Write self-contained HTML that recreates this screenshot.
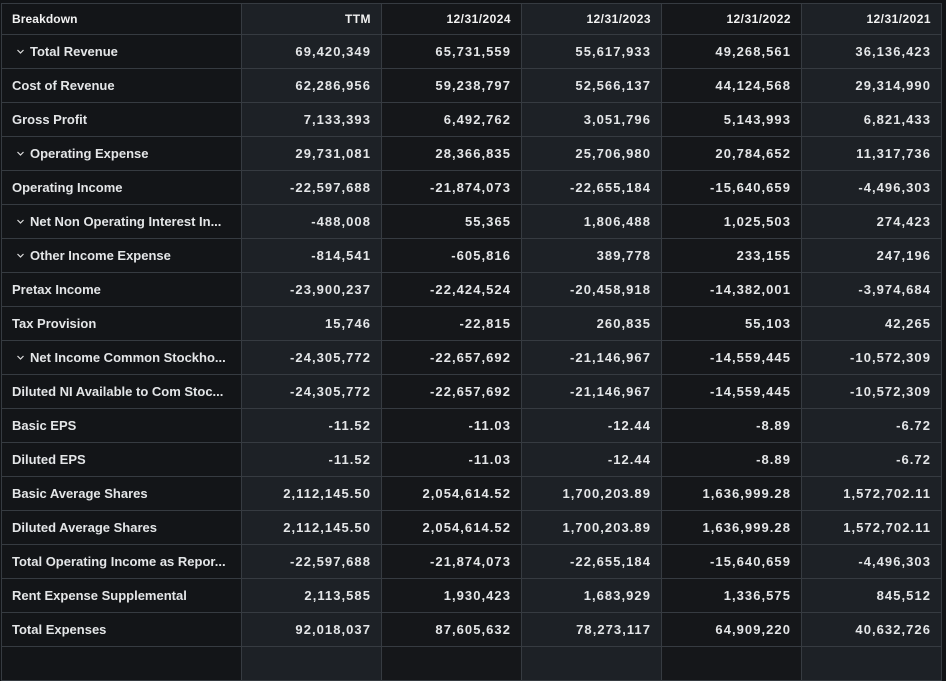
<!DOCTYPE html>
<html><head><meta charset="utf-8"><style>
html,body{margin:0;padding:0;background:#111316;width:946px;height:652px;overflow:hidden}
table{position:absolute;left:1px;top:3px;border-collapse:collapse;table-layout:fixed;font-family:"Liberation Sans",sans-serif;color:#e4e6e8}
td,th{border:1px solid #363b41;padding:0 10px 0 10px;white-space:nowrap;overflow:hidden}
th{height:30px;font-size:12px;font-weight:bold;color:#f2f2f2;text-align:right;letter-spacing:0.45px}
th:first-child{text-align:left;letter-spacing:0.1px}
td{height:33px;font-size:13px;font-weight:bold;text-align:right;letter-spacing:1.05px}
td:first-child{text-align:left;letter-spacing:0}
tr>*:nth-child(1){background:#131518}
tr>*:nth-child(2),tr>*:nth-child(4),tr>*:nth-child(6){background:#1d2126}
tr>*:nth-child(3),tr>*:nth-child(5){background:#15171a}
.c{display:inline-block;width:7px;height:7px;margin:0 6px 0 5px;position:relative;top:-1px}
</style></head><body>
<table>
<colgroup><col style="width:240px"><col style="width:140px"><col style="width:140px"><col style="width:140px"><col style="width:140px"><col style="width:140px"></colgroup>
<tr><th>Breakdown</th><th>TTM</th><th>12/31/2024</th><th>12/31/2023</th><th>12/31/2022</th><th>12/31/2021</th></tr>
<tr><td><svg class="c" viewBox="0 0 7 7"><path d="M0.5 2 L3.5 5 L6.5 2" stroke="#ddd" stroke-width="1.2" fill="none"/></svg>Total Revenue</td><td>69,420,349</td><td>65,731,559</td><td>55,617,933</td><td>49,268,561</td><td>36,136,423</td></tr>
<tr><td>Cost of Revenue</td><td>62,286,956</td><td>59,238,797</td><td>52,566,137</td><td>44,124,568</td><td>29,314,990</td></tr>
<tr><td>Gross Profit</td><td>7,133,393</td><td>6,492,762</td><td>3,051,796</td><td>5,143,993</td><td>6,821,433</td></tr>
<tr><td><svg class="c" viewBox="0 0 7 7"><path d="M0.5 2 L3.5 5 L6.5 2" stroke="#ddd" stroke-width="1.2" fill="none"/></svg>Operating Expense</td><td>29,731,081</td><td>28,366,835</td><td>25,706,980</td><td>20,784,652</td><td>11,317,736</td></tr>
<tr><td>Operating Income</td><td>-22,597,688</td><td>-21,874,073</td><td>-22,655,184</td><td>-15,640,659</td><td>-4,496,303</td></tr>
<tr><td><svg class="c" viewBox="0 0 7 7"><path d="M0.5 2 L3.5 5 L6.5 2" stroke="#ddd" stroke-width="1.2" fill="none"/></svg>Net Non Operating Interest In...</td><td>-488,008</td><td>55,365</td><td>1,806,488</td><td>1,025,503</td><td>274,423</td></tr>
<tr><td><svg class="c" viewBox="0 0 7 7"><path d="M0.5 2 L3.5 5 L6.5 2" stroke="#ddd" stroke-width="1.2" fill="none"/></svg>Other Income Expense</td><td>-814,541</td><td>-605,816</td><td>389,778</td><td>233,155</td><td>247,196</td></tr>
<tr><td>Pretax Income</td><td>-23,900,237</td><td>-22,424,524</td><td>-20,458,918</td><td>-14,382,001</td><td>-3,974,684</td></tr>
<tr><td>Tax Provision</td><td>15,746</td><td>-22,815</td><td>260,835</td><td>55,103</td><td>42,265</td></tr>
<tr><td><svg class="c" viewBox="0 0 7 7"><path d="M0.5 2 L3.5 5 L6.5 2" stroke="#ddd" stroke-width="1.2" fill="none"/></svg>Net Income Common Stockho...</td><td>-24,305,772</td><td>-22,657,692</td><td>-21,146,967</td><td>-14,559,445</td><td>-10,572,309</td></tr>
<tr><td>Diluted NI Available to Com Stoc...</td><td>-24,305,772</td><td>-22,657,692</td><td>-21,146,967</td><td>-14,559,445</td><td>-10,572,309</td></tr>
<tr><td>Basic EPS</td><td>-11.52</td><td>-11.03</td><td>-12.44</td><td>-8.89</td><td>-6.72</td></tr>
<tr><td>Diluted EPS</td><td>-11.52</td><td>-11.03</td><td>-12.44</td><td>-8.89</td><td>-6.72</td></tr>
<tr><td>Basic Average Shares</td><td>2,112,145.50</td><td>2,054,614.52</td><td>1,700,203.89</td><td>1,636,999.28</td><td>1,572,702.11</td></tr>
<tr><td>Diluted Average Shares</td><td>2,112,145.50</td><td>2,054,614.52</td><td>1,700,203.89</td><td>1,636,999.28</td><td>1,572,702.11</td></tr>
<tr><td>Total Operating Income as Repor...</td><td>-22,597,688</td><td>-21,874,073</td><td>-22,655,184</td><td>-15,640,659</td><td>-4,496,303</td></tr>
<tr><td>Rent Expense Supplemental</td><td>2,113,585</td><td>1,930,423</td><td>1,683,929</td><td>1,336,575</td><td>845,512</td></tr>
<tr><td>Total Expenses</td><td>92,018,037</td><td>87,605,632</td><td>78,273,117</td><td>64,909,220</td><td>40,632,726</td></tr>
<tr><td></td><td></td><td></td><td></td><td></td><td></td></tr>
</table>
</body></html>
